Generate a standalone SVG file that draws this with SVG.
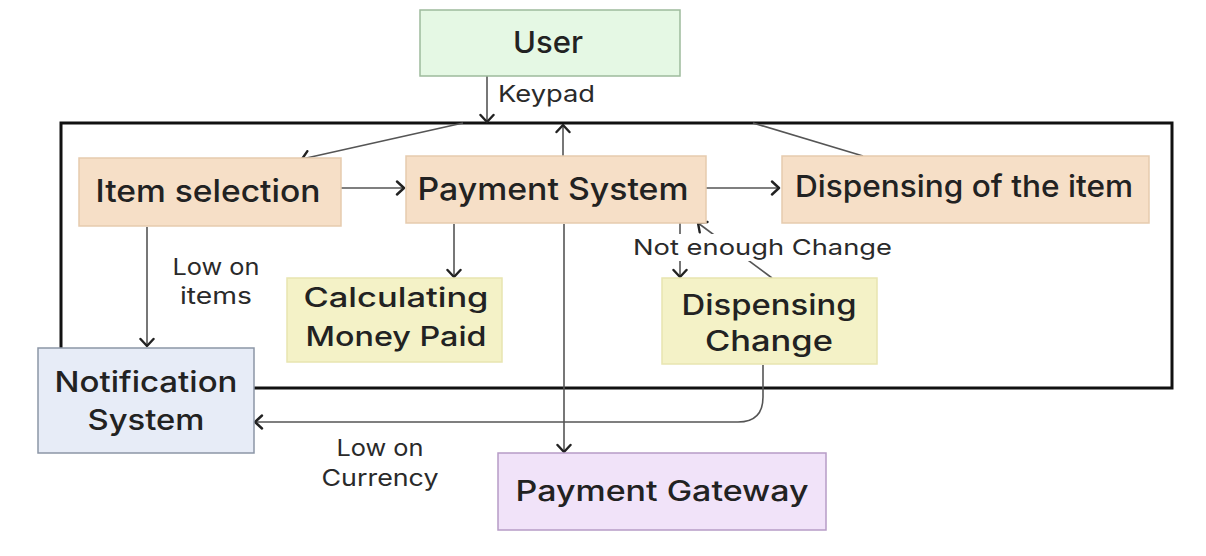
<svg xmlns="http://www.w3.org/2000/svg" width="1206" height="556" viewBox="0 0 1206 556">
<style>
  .node text { font-family: "Inter", "Open Sans", "Liberation Sans", sans-serif; font-weight: 500; fill: #222; }
  .lbl { font-family: "Inter", "Open Sans", "Liberation Sans", sans-serif; font-weight: 400; fill: #2a2a2a; }
  .box { stroke-width: 1.5; }
  .peach { fill: #F6DFC7; stroke: #E6CBAE; }
  .yellow { fill: #F4F2C7; stroke: #E8E5B0; }
  .green { fill: #E5F8E4; stroke: #9DBB9C; }
  .blue { fill: #E7ECF7; stroke: #8C96A6; }
  .purple { fill: #F1E3F9; stroke: #B69CC6; }
  .conn { fill: none; stroke: #555; stroke-width: 1.6; }
  .frame { fill: none; stroke: #111; stroke-width: 3; }
</style>
<defs>
  <marker id="arr" viewBox="-9 -8 12 16" refX="0" refY="0" markerWidth="12" markerHeight="16" markerUnits="userSpaceOnUse" orient="auto">
    <path d="M-7,-6.5 L0,0 L-7,6.5" fill="none" stroke="#222" stroke-width="2.4" stroke-linecap="round" stroke-linejoin="round"/>
  </marker>
</defs>
<rect width="1206" height="556" fill="#ffffff"/>

<!-- container frame -->
<rect class="frame" x="61" y="123" width="1111" height="265"/>

<g id="connectors">
  <line class="conn" x1="487" y1="76" x2="487" y2="122" marker-end="url(#arr)"/>
  <line class="conn" x1="463" y1="123" x2="302" y2="159" marker-end="url(#arr)"/>
  <line class="conn" x1="753" y1="123" x2="863" y2="156"/>
  <line class="conn" x1="563" y1="156" x2="563" y2="125" marker-end="url(#arr)"/>
  <line class="conn" x1="341" y1="188" x2="404" y2="188" marker-end="url(#arr)"/>
  <line class="conn" x1="706" y1="188" x2="779" y2="188" marker-end="url(#arr)"/>
  <line class="conn" x1="454" y1="224" x2="454" y2="277" marker-end="url(#arr)"/>
  <line class="conn" x1="147" y1="227" x2="147" y2="346" marker-end="url(#arr)"/>
  <line class="conn" x1="564" y1="224" x2="564" y2="452" marker-end="url(#arr)"/>
  <line class="conn" x1="680" y1="223" x2="680" y2="277" marker-end="url(#arr)"/>
  <line class="conn" x1="772" y1="278" x2="698" y2="223" marker-end="url(#arr)"/>
  <path class="conn" d="M763,365 V397 Q763,422 738,422 H255" marker-end="url(#arr)"/>
  <rect x="630" y="234" width="264" height="27" fill="#ffffff"/>
  <text class="lbl" x="633" y="255" font-size="22" textLength="259" lengthAdjust="spacingAndGlyphs">Not enough Change</text>
  <text class="lbl" x="498" y="102" font-size="23" textLength="97" lengthAdjust="spacingAndGlyphs">Keypad</text>
  <text class="lbl" x="216" y="275" font-size="23" text-anchor="middle" textLength="87" lengthAdjust="spacingAndGlyphs">Low on</text>
  <text class="lbl" x="216" y="304" font-size="23" text-anchor="middle" textLength="72" lengthAdjust="spacingAndGlyphs">items</text>
  <text class="lbl" x="380" y="456" font-size="23" text-anchor="middle" textLength="87" lengthAdjust="spacingAndGlyphs">Low on</text>
  <text class="lbl" x="380" y="486" font-size="23" text-anchor="middle" textLength="117" lengthAdjust="spacingAndGlyphs">Currency</text>
</g>

<g id="user" class="node">
  <rect class="box green" x="420" y="10" width="260" height="66"/>
  <text x="548" y="53" font-size="30" text-anchor="middle" textLength="70" lengthAdjust="spacingAndGlyphs">User</text>
</g>

<g id="item-selection" class="node">
  <rect class="box peach" x="79" y="158" width="262" height="68"/>
  <text x="208" y="202" font-size="31" text-anchor="middle" textLength="225" lengthAdjust="spacingAndGlyphs">Item selection</text>
</g>

<g id="payment-system" class="node">
  <rect class="box peach" x="406" y="156" width="300" height="67"/>
  <text x="553" y="200" font-size="31" text-anchor="middle" textLength="271" lengthAdjust="spacingAndGlyphs">Payment System</text>
</g>

<g id="dispensing-item" class="node">
  <rect class="box peach" x="782" y="156" width="367" height="67"/>
  <text x="964" y="197" font-size="30" text-anchor="middle" textLength="338" lengthAdjust="spacingAndGlyphs">Dispensing of the item</text>
</g>

<g id="calculating" class="node">
  <rect class="box yellow" x="287" y="278" width="215" height="84"/>
  <text x="396" y="307" font-size="27" text-anchor="middle" textLength="185" lengthAdjust="spacingAndGlyphs">Calculating</text>
  <text x="396" y="346" font-size="27" text-anchor="middle" textLength="181" lengthAdjust="spacingAndGlyphs">Money Paid</text>
</g>

<g id="dispensing-change" class="node">
  <rect class="box yellow" x="662" y="278" width="215" height="86"/>
  <text x="769" y="315" font-size="28" text-anchor="middle" textLength="175" lengthAdjust="spacingAndGlyphs">Dispensing</text>
  <text x="769" y="351" font-size="28" text-anchor="middle" textLength="128" lengthAdjust="spacingAndGlyphs">Change</text>
</g>

<g id="notification" class="node">
  <rect class="box blue" x="38" y="348" width="216" height="105"/>
  <text x="146" y="392" font-size="29" text-anchor="middle" textLength="183" lengthAdjust="spacingAndGlyphs">Notification</text>
  <text x="146" y="430" font-size="29" text-anchor="middle" textLength="117" lengthAdjust="spacingAndGlyphs">System</text>
</g>

<g id="payment-gateway" class="node">
  <rect class="box purple" x="498" y="453" width="328" height="77"/>
  <text x="662" y="501" font-size="28" text-anchor="middle" textLength="293" lengthAdjust="spacingAndGlyphs">Payment Gateway</text>
</g>
</svg>
